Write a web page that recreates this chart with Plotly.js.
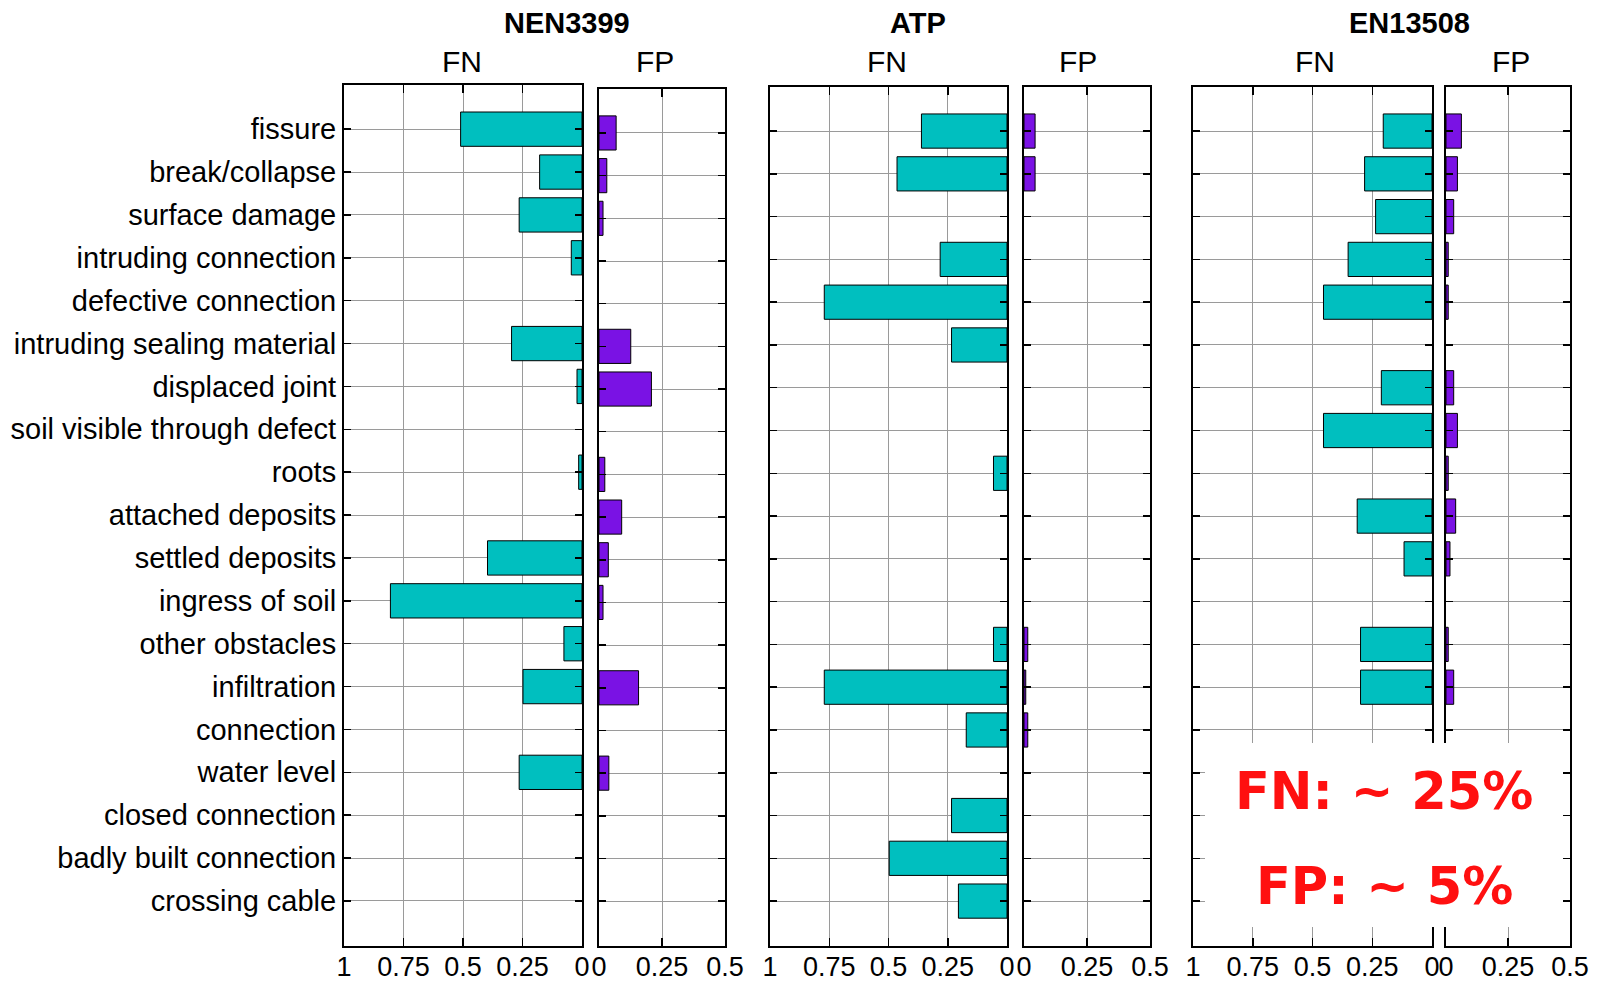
<!DOCTYPE html>
<html>
<head>
<meta charset="utf-8">
<script src="https://cdn.plot.ly/plotly-3.0.1.min.js"></script>
<style>html,body{margin:0;padding:0;background:#fff;}#chart{width:1603px;height:984px;}</style>
</head>
<body>
<div id="chart"></div>
<script>
const categories = ["fissure","break/collapse","surface damage","intruding connection","defective connection","intruding sealing material","displaced joint","soil visible through defect","roots","attached deposits","settled deposits","ingress of soil","other obstacles","infiltration","connection","water level","closed connection","badly built connection","crossing cable"];
const groupNames = ["NEN3399","ATP","EN13508"];
const nenFN = [0.51,0.178,0.264,0.045,0,0.296,0.021,0,0.014,0,0.397,0.805,0.076,0.248,0,0.264,0,0,0];
const nenFP = [0.068,0.031,0.016,0,0,0.126,0.208,0,0.023,0.090,0.037,0.016,0,0.157,0,0.039,0,0,0];
const atpFN = [0.361,0.464,0,0.282,0.771,0.234,0,0,0.057,0,0,0,0.057,0.771,0.172,0,0.234,0.497,0.205];
const atpFP = [0.044,0.044,0,0,0,0,0,0,0,0,0,0,0.015,0.007,0.015,0,0,0,0];
const enFN = [0.204,0.282,0.236,0.351,0.454,0,0.212,0.454,0,0.313,0.117,0,0.299,0.299,0,0,0,0,0];
const enFP = [0.062,0.046,0.031,0.009,0.009,0,0.031,0.046,0.009,0.039,0.016,0,0.009,0.031,0,0,0,0,0];
const fnTicks = [1,0.75,0.5,0.25,0];
const fnTickText = ["1","0.75","0.5","0.25","0"];
const fpTicks = [0,0.25,0.5];
const fpTickText = ["0","0.25","0.5"];
const noteLines = ["FN: ~ 25%","FP: ~ 5%"];

const W = 1603, H = 984;
const FONT = "Liberation Sans, Arial, sans-serif";
const cyan = "#00bfbf", purple = "#7a12e4";
const idx = categories.map((c,i)=>i);

// pixel boxes [x0,x1,y0(top),y1(bottom)]
const boxes = [
  [344,582,85,946],[599,725,89,946],
  [770,1007,87,946],[1024,1150,87,946],
  [1193,1432,87,946],[1446,1570,87,946]
];
const series = [nenFN,nenFP,atpFN,atpFP,enFN,enFP];

const data = series.map((vals,k)=>({
  type:"bar", orientation:"h", x:vals, y:idx, width:0.8,
  xaxis: k===0?"x":"x"+(k+1), yaxis: k===0?"y":"y"+(k+1),
  marker:{color: k%2===0?cyan:purple,
    line:{color:"#000", width: vals.map(v=> v>0 ? 1 : 0)}},
  hoverinfo:"x+y", showlegend:false
}));

const layout = {
  width:W, height:H, autosize:false,
  margin:{l:0,r:0,t:0,b:0},
  paper_bgcolor:"#fff", plot_bgcolor:"#fff",
  font:{family:FONT,color:"#000"},
  bargap:0,
  annotations:[], shapes:[]
};

boxes.forEach((b,k)=>{
  const n = k===0?"":(k+1);
  const isFN = k%2===0;
  layout["xaxis"+n] = {
    domain:[b[0]/W,b[1]/W], anchor:"y"+n,
    range: isFN?[1,0]:[0,0.5],
    tickmode:"array", tickvals: isFN?fnTicks:fpTicks, ticktext: isFN?fnTickText:fpTickText,
    ticks:"inside", ticklen:8, tickwidth:1.5, tickcolor:"#000",
    showline:true, linecolor:"#000", linewidth:2, mirror:"ticks",
    showgrid:true, gridcolor:"#9a9a9a", gridwidth:1,
    zeroline:false, tickfont:{size:27,family:FONT,color:"#000"},
    ticklabelstandoff:-4,
    fixedrange:true
  };
  layout["yaxis"+n] = {
    domain:[1-b[3]/H,1-b[2]/H], anchor:"x"+n,
    range:[19.05,-1.03],
    tickmode:"array", tickvals:idx, ticktext:categories,
    showticklabels: k===0,
    ticks:"inside", ticklen:7, tickwidth:1.5, tickcolor:"#000",
    showline:true, linecolor:"#000", linewidth:2, mirror:"ticks",
    showgrid:true, gridcolor:"#9a9a9a", gridwidth:1,
    zeroline:false, tickfont:{size:29,family:FONT,color:"#000"},
    fixedrange:true
  };
});

// group titles
const titleX = [567,918,1409];
groupNames.forEach((g,i)=>{
  layout.annotations.push({text:"<b>"+g+"</b>", xref:"paper", yref:"paper",
    x:titleX[i]/W, y:1-23/H, showarrow:false, xanchor:"center", yanchor:"middle",
    font:{size:29,family:FONT,color:"#000"}});
});
// FN / FP labels
const subX = [462,655,887,1078,1315,1511];
subX.forEach((x,k)=>{
  layout.annotations.push({text: k%2===0?"FN":"FP", xref:"paper", yref:"paper",
    x:x/W, y:1-61/H, showarrow:false, xanchor:"center", yanchor:"middle",
    font:{size:30,family:FONT,color:"#000"}});
});

// white note box
layout.shapes.push({type:"rect", xref:"paper", yref:"paper", layer:"above",
  x0:1205/W, x1:1563/W, y0:1-927/H, y1:1-743/H,
  fillcolor:"#fff", line:{width:0}});
const noteY = [791,886];
noteLines.forEach((t,i)=>{
  layout.annotations.push({text:"<b>"+t+"</b>", xref:"paper", yref:"paper",
    x:1384/W, y:1-noteY[i]/H, showarrow:false, xanchor:"center", yanchor:"middle",
    font:{size:51,family:"DejaVu Sans, Verdana, sans-serif",color:"#ff1010"}});
});

Plotly.newPlot("chart", data, layout, {displayModeBar:false, staticPlot:true});
</script>
</body>
</html>
